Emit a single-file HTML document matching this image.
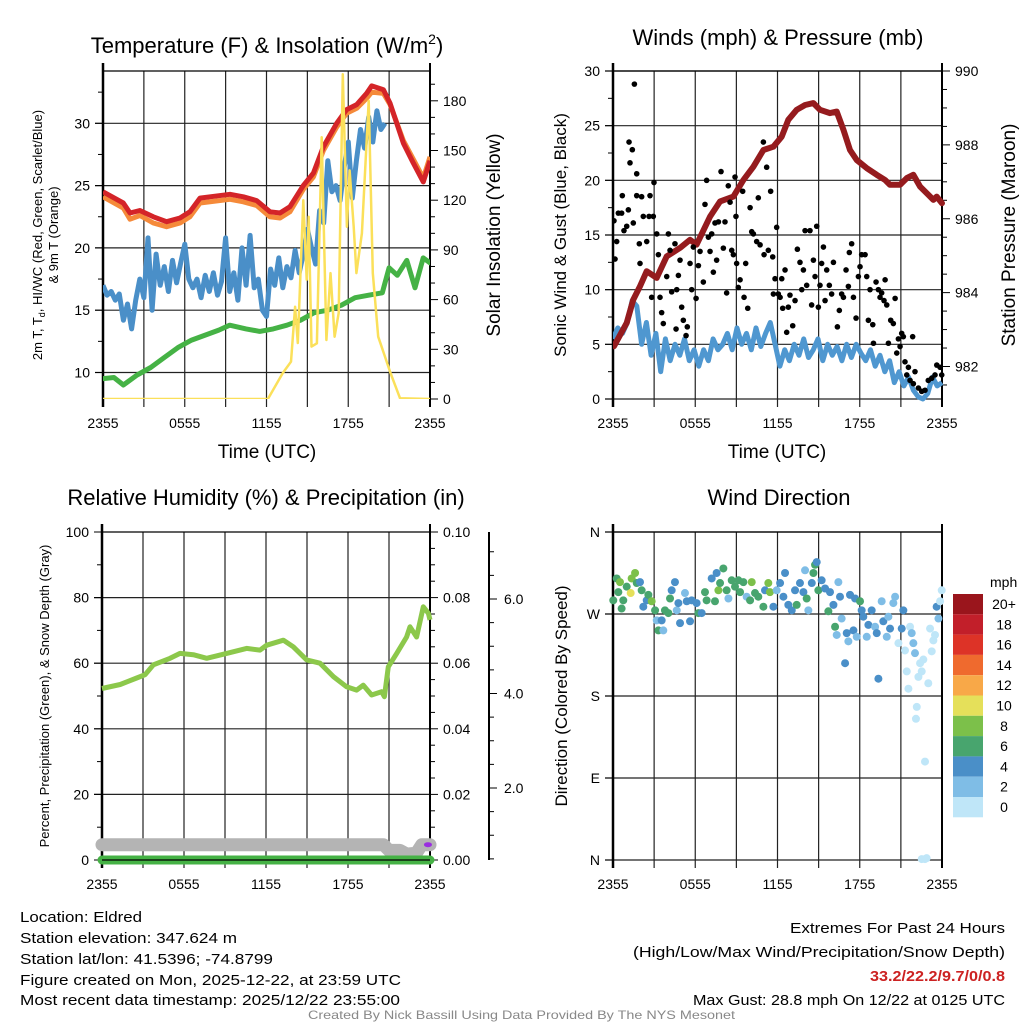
<!DOCTYPE html>
<html><head><meta charset="utf-8"><style>
html,body{margin:0;padding:0;background:#fff;}
svg{display:block;font-family:"Liberation Sans",Arial,sans-serif;}
</style></head><body>
<svg id="chart" width="1024" height="1024" viewBox="0 0 1024 1024" xmlns="http://www.w3.org/2000/svg">
<rect width="1024" height="1024" fill="#fff"/>
<g id="root"></g>
<text x="267" y="53" font-size="22" text-anchor="middle">Temperature (F) &amp; Insolation (W/m<tspan dy="-9" font-size="14">2</tspan><tspan dy="9">)</tspan></text>
<text x="778" y="45" font-size="22" text-anchor="middle">Winds (mph) &amp; Pressure (mb)</text>
<text x="266" y="505" font-size="22" text-anchor="middle">Relative Humidity (%) &amp; Precipitation (in)</text>
<text x="779" y="505" font-size="22" text-anchor="middle">Wind Direction</text>
<text x="267" y="458" font-size="19" text-anchor="middle">Time (UTC)</text>
<text x="777" y="458" font-size="19" text-anchor="middle">Time (UTC)</text>
<text transform="translate(42,235) rotate(-90)" font-size="13" text-anchor="middle">2m T, T<tspan dy="3" font-size="9">d</tspan><tspan dy="-3">, HI/WC (Red, Green, Scarlet/Blue)</tspan></text>
<text transform="translate(58,235) rotate(-90)" font-size="13" text-anchor="middle">&amp; 9m T (Orange)</text>
<text transform="translate(500,235) rotate(-90)" font-size="19" text-anchor="middle">Solar Insolation (Yellow)</text>
<text transform="translate(566,235) rotate(-90)" font-size="17" text-anchor="middle">Sonic Wind &amp; Gust (Blue, Black)</text>
<text transform="translate(1015,235) rotate(-90)" font-size="19" text-anchor="middle">Station Pressure (Maroon)</text>
<text transform="translate(49,696) rotate(-90)" font-size="13" text-anchor="middle">Percent, Precipitation (Green), &amp; Snow Depth (Gray)</text>
<text transform="translate(567,696) rotate(-90)" font-size="17" text-anchor="middle">Direction (Colored By Speed)</text>
<g font-size="15">
<text x="20" y="922" textLength="122" lengthAdjust="spacingAndGlyphs">Location: Eldred</text>
<text x="20" y="943" textLength="217" lengthAdjust="spacingAndGlyphs">Station elevation: 347.624 m</text>
<text x="20" y="964" textLength="253" lengthAdjust="spacingAndGlyphs">Station lat/lon: 41.5396; -74.8799</text>
<text x="20" y="985" textLength="381" lengthAdjust="spacingAndGlyphs">Figure created on Mon, 2025-12-22, at 23:59 UTC</text>
<text x="20" y="1005" textLength="380" lengthAdjust="spacingAndGlyphs">Most recent data timestamp: 2025/12/22 23:55:00</text>
</g>
<g font-size="15" text-anchor="end">
<text x="1005" y="933" textLength="215" lengthAdjust="spacingAndGlyphs">Extremes For Past 24 Hours</text>
<text x="1005" y="957" textLength="372" lengthAdjust="spacingAndGlyphs">(High/Low/Max Wind/Precipitation/Snow Depth)</text>
<text x="1005" y="981" textLength="135" lengthAdjust="spacingAndGlyphs" fill="#cc2222" font-weight="bold">33.2/22.2/9.7/0/0.8</text>
<text x="1005" y="1005" textLength="312" lengthAdjust="spacingAndGlyphs">Max Gust: 28.8 mph On 12/22 at 0125 UTC</text>
</g>
<text x="308" y="1019" font-size="12" fill="#888" textLength="427" lengthAdjust="spacingAndGlyphs">Created By Nick Bassill Using Data Provided By The NYS Mesonet</text>
</svg>
<script>
// ---------- DATA ----------
const xTickLabels = ["2355","0555","1155","1755","2355"];
const tempTimes = [0,1.49,1.98,2.71,3.69,4.67,5.65,6.38,7.12,7.85,9.32,10.3,11.28,12.26,12.99,13.72,14.7,15.44,16.17,17.15,17.88,18.62,19.35,19.72,20.58,21.07,22.05,22.78,23.51,24];
const tempValues = [24.5,23.6,22.8,23.0,22.5,22.1,22.4,22.9,24.0,24.1,24.3,24.1,23.8,22.9,22.8,23.3,25.0,26.0,28.1,30.0,31.1,31.5,32.4,33.0,32.7,31.6,28.4,26.8,25.3,27.0];
const temp9mValues = [24.1,23.2,22.3,22.6,22.0,21.7,22.0,22.5,23.6,23.7,23.9,23.7,23.4,22.5,22.4,22.9,24.7,25.7,27.8,29.7,30.8,31.2,32.0,32.5,32.4,31.5,28.6,27.1,25.6,27.3];
const chillValues = [17,16.2,16.5,15.8,16.3,14.2,15.5,13.5,15.8,17.5,16.0,20.8,15.0,19.5,17.0,18.5,16.5,19.0,17.2,18.8,20.3,17.5,16.8,17.5,16.0,17.8,16.5,18.0,16.2,17.3,20.8,16.5,18.0,15.8,20.0,17.0,21.0,16.8,17.5,15.0,14.5,18.3,17.0,19.2,16.8,18.5,17.6,19.8,18.0,19.5,21.5,20.0,18.7,23.0,22.0,27.0,24.5,25.0,23.8,26.5,28.5,24.0,27.0,29.5,28.0,30.5,28.5,31.0,29.5,30.0];
const chillStep = 0.3;
const dewTimes = [0,0.8,1.5,2.5,3.5,4.5,5.5,6.5,7.5,8.5,9.3,10.5,11.5,12.5,13.5,14.5,15.5,16.5,17.5,18.5,19.5,20.5,21.0,21.6,22.3,22.9,23.5,24];
const dewValues = [9.5,9.6,9.0,9.8,10.4,11.2,12.0,12.6,13.0,13.4,13.8,13.5,13.3,13.5,13.8,14.2,14.8,15.0,15.4,16.0,16.2,16.4,18.4,17.8,19.0,16.8,19.2,18.8];
const solarTimes = [0,12.1,13.2,13.8,14.1,14.3,14.7,14.95,15.1,15.3,15.7,16.05,16.4,16.7,17.0,17.3,17.6,17.9,18.1,18.4,18.6,19.0,19.5,19.8,20.2,20.6,21.1,21.8,24];
const solarValues = [0,0,15.7,22.5,55.7,33.8,120,72,110,31.6,33.6,158,35.6,76,37.6,52,196,104,138,104,76,100,180,76,37.6,27.8,15.7,0.5,0];

const windValues = [5.5,6.5,6.0,7.0,9.0,8.5,5.0,7.0,4.0,6.0,2.5,5.5,3.5,5.0,4.0,5.5,3.5,4.5,3.0,4.5,3.5,5.5,4.5,5.0,6.0,4.5,6.5,5.0,6.0,4.5,6.5,4.8,6.0,7.0,5.0,3.0,4.5,3.5,5.0,4.0,5.5,3.8,4.5,5.5,3.5,5.0,4.0,4.8,3.5,5.0,3.8,5.0,4.2,3.5,4.5,3.0,4.0,2.5,3.5,1.5,2.5,1.2,2.0,0.8,0.2,0.0,0.5,2.0,1.2,1.5];
const windStep = 24/69;
const gustTimes = [0.07,0.15,0.27,0.39,0.63,0.68,0.8,1.0,1.12,1.17,1.24,1.41,1.56,1.48,1.73,1.73,1.92,1.97,2.09,2.21,2.46,2.63,2.7,2.82,2.94,2.99,3.19,3.31,3.43,3.55,3.67,3.92,4.04,4.16,4.28,4.52,4.65,4.6,4.77,4.89,5.01,5.13,5.33,5.42,5.62,5.74,5.86,6.06,6.23,6.35,6.59,6.71,6.83,6.96,7.08,7.2,7.32,7.44,7.56,7.69,7.88,8.05,8.17,8.29,8.41,8.54,8.66,8.78,8.9,8.97,9.02,9.14,9.27,9.46,9.56,9.68,9.83,10.0,10.12,10.24,10.48,10.6,10.73,10.97,11.02,11.21,11.33,11.5,11.65,11.7,11.82,11.94,12.06,12.19,12.31,12.38,12.55,12.67,12.79,12.91,13.11,13.28,13.45,13.64,13.77,13.89,14.01,14.13,14.37,14.49,14.62,14.74,14.86,14.98,15.1,15.22,15.35,15.47,15.59,15.78,15.95,16.08,16.37,16.51,16.68,16.81,17.0,17.17,17.24,17.41,17.54,17.73,17.9,18.02,18.14,18.39,18.51,18.63,18.75,18.95,19.0,19.19,19.36,19.48,19.6,19.77,19.85,19.97,20.09,20.26,20.45,20.58,20.7,20.82,20.94,21.06,21.18,21.3,21.43,21.55,21.67,21.86,21.91,22.03,22.28,22.52,22.76,23.0,23.25,23.49,23.62,23.86,23.98];
const gustValues = [16.3,12.8,14.4,17.0,17.0,18.6,15.4,15.8,17.3,23.5,21.6,22.8,28.8,16.1,20.6,18.6,14.2,12.4,18.5,16.7,14.4,16.7,18.6,9.3,16.7,19.8,15.1,13.2,9.3,7.9,6.9,11.2,15.1,13.6,9.8,14.2,10.0,6.4,11.3,12.7,8.4,7.2,5.8,6.6,12.4,10.0,13.9,9.2,12.2,13.5,10.7,17.8,20.0,14.8,13.5,15.1,11.6,16.1,12.7,16.2,20.8,13.8,16.2,9.7,19.5,18.0,13.6,13.2,20.3,16.7,12.4,10.2,10.9,19.0,9.3,12.4,8.3,17.5,15.3,15.1,14.4,18.4,14.1,23.5,13.2,21.2,13.6,19.0,13.0,9.6,11.0,15.7,9.6,9.3,11.0,8.3,11.8,6.1,8.4,9.5,6.7,9.0,13.7,12.5,10.0,11.8,15.4,10.4,15.4,8.6,12.7,11.2,15.8,8.4,10.4,12.4,13.9,9.0,11.8,10.4,9.6,12.5,6.6,8.1,9.6,9.3,11.8,10.3,13.4,14.2,9.3,7.4,11.2,12.1,13.2,13.2,11.2,7.2,10.0,6.8,5.1,10.7,10.0,9.3,9.7,9.0,10.9,8.6,5.1,7.2,6.9,9.2,4.2,5.5,4.8,6.0,5.7,3.4,2.2,2.9,1.7,5.7,1.4,2.5,1.0,0.7,0.8,1.7,1.9,2.2,3.1,2.9,2.2];
const presTimes = [0.07,1.0,1.48,1.97,2.46,3.19,3.92,4.89,5.62,6.1,7.08,7.81,8.78,9.51,10.24,10.97,11.7,12.31,12.79,13.4,14.01,14.62,15.1,15.83,16.32,16.81,17.29,17.78,18.51,19.24,19.85,20.21,20.94,21.43,21.91,22.4,23.0,23.37,23.61,24];
const presValues = [982.55,983.18,983.81,984.17,984.58,984.4,984.98,985.21,985.43,985.3,986.06,986.47,986.6,987.05,987.41,987.86,987.95,988.22,988.68,988.95,989.08,989.13,988.95,988.86,988.9,988.41,987.86,987.59,987.37,987.19,987.05,986.92,986.92,987.1,987.19,986.87,986.65,986.51,986.6,986.42];

const rhTimes = [0,1.33,2.54,3.15,3.76,4.98,5.71,6.68,7.66,9.12,10.58,11.56,12.05,13.27,14.0,14.98,15.95,16.93,17.9,18.63,19.12,19.73,20.46,20.66,20.95,21.56,22.29,22.54,23.02,23.51,23.88,24];
const rhValues = [52.3,53.5,55.5,56.5,59.5,61.5,63.0,62.6,61.5,63.0,64.5,64.0,65.5,67.0,65.0,61.0,60.0,55.9,52.8,51.8,53.3,50.3,51.3,49.8,58.9,63.0,68.0,71.1,68.0,77.2,75.2,73.2];
const snowTimes = [0,20.6,21.0,21.8,22.3,23.0,23.4,24];
const snowValues = [0.8,0.8,0.68,0.68,0.6,0.62,0.8,0.8];
const precipTimes = [0,24];
const precipValues = [0,0];

const dirTimes = [0.02,0.27,0.39,0.51,0.63,0.75,1.0,1.29,1.36,1.61,1.73,1.97,2.09,2.21,2.46,2.58,2.82,3.07,3.19,3.31,3.55,3.67,3.79,4.04,4.16,4.28,4.52,4.65,4.77,4.89,5.25,5.38,5.62,5.74,6.1,6.23,6.47,6.71,6.83,7.2,7.44,7.56,7.69,7.81,8.05,8.29,8.42,8.66,8.9,9.15,9.27,9.51,9.75,10.0,10.12,10.36,10.6,10.97,11.09,11.33,11.45,11.7,11.94,12.19,12.43,12.55,12.79,13.04,13.28,13.4,13.64,13.89,14.01,14.13,14.25,14.5,14.62,14.74,14.86,14.98,15.22,15.47,15.71,15.83,16.08,16.2,16.32,16.44,16.56,16.68,16.93,17.05,17.17,17.29,17.54,17.66,17.78,18.02,18.14,18.26,18.51,18.63,18.87,19.12,19.24,19.36,19.6,19.72,19.97,20.09,20.21,20.45,20.58,20.82,21.06,21.18,21.3,21.43,21.55,21.67,21.79,21.91,22.03,22.16,22.1,22.28,22.4,22.52,22.64,22.76,22.88,23.0,23.13,23.25,23.37,23.49,23.61,23.74,23.86,23.98,22.52,22.76];
const dirValues = [285,309,294,305,276,285,300,293,309,315,304,305,296,278,285,291,284,274,263,252,263,252,274,271,287,296,305,274,282,260,293,284,262,285,282,271,271,294,285,309,284,315,296,304,320,296,287,307,300,307,294,305,289,285,305,293,289,278,296,304,294,278,296,304,289,315,280,274,296,280,304,294,318,287,274,304,315,324,327,296,307,298,273,294,280,256,247,305,289,265,216,249,240,291,252,287,245,284,274,267,245,258,274,256,249,199,284,262,245,267,254,282,289,238,254,274,230,207,188,256,249,238,227,168,155,201,216,207,220,108,2,194,254,229,241,247,278,265,284,296,1,1];
const dirSpeeds = [6,6,6,8,6,6,6,10,8,8,6,4,6,4,4,6,8,6,2,6,4,2,6,6,6,4,4,2,4,4,2,4,4,4,4,6,4,6,6,4,6,4,8,6,6,6,2,6,6,6,6,6,2,6,8,6,6,6,4,8,8,4,2,4,4,4,4,4,4,6,4,4,2,6,2,4,6,6,4,6,4,4,6,4,4,6,2,2,4,2,4,4,2,4,4,4,2,6,4,4,2,4,4,2,4,4,2,4,2,2,4,2,2,0,4,4,0,0,0,0,2,2,2,0,0,0,0,0,0,0,0,0,0,0,0,0,4,2,0,0,0,0];
const speedBins = [0,2,4,6,8,10,12,14,16,18,20];
const speedLabels = ["0","2","4","6","8","10","12","14","16","18","20+"];
const speedColors = ["#bfe6f8","#7fbde6","#4a8fc8","#48a56e","#7cc04a","#e5e05a","#f8a848","#ef6a2e","#dd3327","#c21f2a","#9a151c"];

// ---------- DRAWING ----------
const NS = "http://www.w3.org/2000/svg";
const root = document.getElementById("root");
function mk(tag, attrs, parent){
  const e = document.createElementNS(NS, tag);
  for (const k in attrs) e.setAttribute(k, attrs[k]);
  (parent || root).appendChild(e);
  return e;
}
function linScale(d0,d1,r0,r1){ return v => r0 + (v-d0)/(d1-d0)*(r1-r0); }
function pathFrom(ts, vs, xs, ys){
  let d = "";
  for (let i=0;i<ts.length;i++){ d += (i?"L":"M") + xs(ts[i]).toFixed(1) + "," + ys(vs[i]).toFixed(1); }
  return d;
}
function stepTimes(n, step){ const a=[]; for(let i=0;i<n;i++) a.push(i*step); return a; }

function frame(L,R,T,B,g,leftTicks,hLines){
  // grid verticals
  for (let h=0; h<=24; h+=3){
    const x = L + h/24*(R-L);
    const ln = mk("line",{x1:x,y1:T,x2:x,y2:B+8,stroke:"#222","stroke-width":1.2},g);
    
    
  }
  hLines.forEach(y=>{
    const ln = mk("line",{x1:L-8,y1:y,x2:R,y2:y,stroke:"#222","stroke-width":1.2},g);
    
    
  });
  mk("line",{x1:L,y1:T,x2:R,y2:T,stroke:"#000","stroke-width":1.2},g);
  mk("line",{x1:L,y1:T-8,x2:L,y2:B+8,stroke:"#000","stroke-width":2.5},g);
  mk("line",{x1:R,y1:T-8,x2:R,y2:B+8,stroke:"#000","stroke-width":2},g);
  xTickLabels.forEach((lab,i)=>{
    const x = L + i*6/24*(R-L);
    const t = mk("text",{x:x,y:B+29,"font-size":14,"text-anchor":"middle"},g);
    t.textContent = lab;
    
    
  });
  leftTicks.forEach(tk=>{
    mk("line",{x1:L-(tk.major?8:5),y1:tk.y,x2:L,y2:tk.y,stroke:"#000","stroke-width":1},g);
    if (tk.label!==undefined){
      const t = mk("text",{x:L-13,y:tk.y+5,"font-size":14,"text-anchor":"end"},g);
      t.textContent = tk.label;
      
      
    }
  });
}
function rightTicks(R,ticks,g,lx){
  ticks.forEach(tk=>{
    mk("line",{x1:R,y1:tk.y,x2:R+(tk.major?8:5),y2:tk.y,stroke:"#000","stroke-width":1},g);
    if (tk.label!==undefined){
      const t = mk("text",{x:lx||R+13,y:tk.y+5,"font-size":14},g);
      t.textContent = tk.label;
      
      
    }
  });
}

// ===== Panel 1: Temperature =====
(function(){
  const L=103,R=430,T=71,B=399;
  const g = mk("g",{});  
  const xs = linScale(0,24,L,R);
  const ys = linScale(10,30,372.5,123.3);
  const ysol = linScale(0,180,399,100.8);
  const lt=[], hl=[];
  for (let v=7.5; v<=34; v+=2.5){ const y=ys(v); if(y<T||y>B) continue; const maj = v%5===0; lt.push({y:y,major:maj,label:maj?String(v):undefined}); if(maj) hl.push(y); }
  frame(L,R,T,B,g,lt,hl);
  const rt=[];
  for (let v=0; v<=190; v+=10){ const maj=v%30===0; rt.push({y:ysol(v),major:maj,label:maj?String(v):undefined}); }
  rightTicks(R,rt,g);
  const clip = mk("clipPath",{id:"c1"},g); mk("rect",{x:L,y:T,width:R-L,height:B-T},clip);
  const pg = mk("g",{"clip-path":"url(#c1)"},g);
  let p;
  p = mk("path",{d:pathFrom(dewTimes,dewValues,xs,ys),fill:"none",stroke:"#45b245","stroke-width":5,"stroke-linejoin":"round","stroke-linecap":"round"},pg);
   
  p = mk("path",{d:pathFrom(stepTimes(chillValues.length,chillStep),chillValues,xs,ys),fill:"none",stroke:"#4a8fc8","stroke-width":5,"stroke-linejoin":"round"},pg);
   
  p = mk("path",{d:pathFrom(tempTimes,temp9mValues,xs,ys),fill:"none",stroke:"#f58a3a","stroke-width":5,"stroke-linejoin":"round"},pg);
   
  p = mk("path",{d:pathFrom(tempTimes,tempValues,xs,ys),fill:"none",stroke:"#d42428","stroke-width":5,"stroke-linejoin":"round"},pg);
   
  p = mk("path",{d:pathFrom(solarTimes,solarValues,xs,ysol),fill:"none",stroke:"#fbe05a","stroke-width":2.5,"stroke-linejoin":"round"},pg);
   
})();

// ===== Panel 2: Winds =====
(function(){
  const L=613,R=942,T=71,B=399;
  const g = mk("g",{});  
  const xs = linScale(0,24,L,R);
  const ys = linScale(0,30,B,T);
  const yp = linScale(982,990,366.5,71);
  const lt=[], hl=[];
  for (let v=0; v<=30; v+=2.5){ const maj=v%5===0; lt.push({y:ys(v),major:maj,label:maj?String(v):undefined}); if(maj) hl.push(ys(v)); }
  frame(L,R,T,B,g,lt,hl);
  const rt=[];
  for (let v=981.5; v<=990; v+=0.5){ const y=yp(v); if(y>B) continue; const maj=v%2===0; rt.push({y:y,major:maj,label:maj?String(v):undefined}); }
  rightTicks(R,rt,g);
  const clip = mk("clipPath",{id:"c2"},g); mk("rect",{x:L,y:T-5,width:R-L+4,height:B-T+8},clip);
  const pg = mk("g",{"clip-path":"url(#c2)"},g);
  let p = mk("path",{d:pathFrom(stepTimes(windValues.length,windStep),windValues,xs,ys),fill:"none",stroke:"#4f97d0","stroke-width":5,"stroke-linejoin":"round"},pg);
   
  p = mk("path",{d:pathFrom(presTimes,presValues,xs,yp),fill:"none",stroke:"#951b1e","stroke-width":6,"stroke-linejoin":"round","stroke-linecap":"round"},pg);
   
  for (let i=0;i<gustTimes.length;i++){
    const c = mk("circle",{cx:xs(gustTimes[i]),cy:ys(gustValues[i]),r:2.8,fill:"#000"},pg);
    
    
  }
})();

// ===== Panel 3: RH =====
(function(){
  const L=102,R=430,T=532,B=860;
  const g = mk("g",{});  
  const xs = linScale(0,24,L,R);
  const ys = linScale(0,100,B,T);
  const ypr = linScale(0,0.1,B,T);
  const ysn = linScale(0,2,882.5,788);
  const lt=[], hl=[];
  for (let v=0; v<=100; v+=10){ const maj=v%20===0; lt.push({y:ys(v),major:maj,label:maj?String(v):undefined}); if(maj&&v>0&&v<100) hl.push(ys(v)); }
  frame(L,R,T,B,g,lt,hl);
  const rt=[];
  for (let i=0;i<=20;i++){ const v=i*0.005; const maj=i%4===0; rt.push({y:ypr(v),major:maj,label:maj?v.toFixed(2):undefined}); }
  rightTicks(R,rt,g);
  mk("line",{x1:489,y1:T,x2:489,y2:B,stroke:"#000","stroke-width":2},g);
  const st=[];
  for (let i=1;i<=14;i++){ const v=i*0.5; const y=ysn(v); if(y<T) continue; const maj=i%4===0; st.push({y:y,major:maj,label:maj?v.toFixed(1):undefined}); }
  rightTicks(489,st,g,504);
  const clip = mk("clipPath",{id:"c3"},g); mk("rect",{x:L-10,y:T,width:R-L+20,height:B-T+10},clip);
  const pg = mk("g",{"clip-path":"url(#c3)"},g);
  let p = mk("path",{d:pathFrom(snowTimes,snowValues,xs,ysn),fill:"none",stroke:"#b4b4b4","stroke-width":13,"stroke-linejoin":"round","stroke-linecap":"round"},pg);
   
  p = mk("path",{d:pathFrom(precipTimes,precipValues,xs,ypr),fill:"none",stroke:"#45b245","stroke-width":9,"stroke-linecap":"round"},pg);
   
  mk("line",{x1:L,y1:B,x2:R,y2:B,stroke:"#000","stroke-width":1.2},g);
  p = mk("ellipse",{cx:xs(23.85),cy:ysn(0.8),rx:4,ry:2.5,fill:"#9a2ee0"},pg);
   
  p = mk("path",{d:pathFrom(rhTimes,rhValues,xs,ys),fill:"none",stroke:"#8cc84b","stroke-width":5,"stroke-linejoin":"round"},pg);
   
})();

// ===== Panel 4: Wind direction =====
(function(){
  const L=613,R=942,T=532,B=860;
  const g = mk("g",{});  
  const xs = linScale(0,24,L,R);
  const ys = linScale(0,360,B,T);
  const dirLabels = ["N","E","S","W","N"];
  const lt=[], hl=[];
  for (let i=0;i<5;i++){ lt.push({y:ys(i*90),major:true,label:dirLabels[i]}); hl.push(ys(i*90)); }
  frame(L,R,T,B,g,lt,hl);
  for (let i=0;i<dirTimes.length;i++){
    let ci = speedBins.length-1;
    for (let k=0;k<speedBins.length;k++){ if (dirSpeeds[i] < speedBins[k]+2){ ci=k; break; } }
    const c = mk("circle",{cx:xs(dirTimes[i]),cy:ys(dirValues[i]),r:4,fill:speedColors[ci]},g);
    
    
  }
  // colorbar
  const cb = mk("g",{});  
  const t0 = mk("text",{x:990,y:587,"font-size":14},cb); t0.textContent="mph";
   
  for (let k=0;k<speedColors.length;k++){
    const idx = speedColors.length-1-k;
    const y = 594 + k*20.3;
    const r = mk("rect",{x:953,y:y,width:30,height:20.3,fill:speedColors[idx]},cb);
     
    const t = mk("text",{x:1004,y:y+15,"font-size":14,"text-anchor":"middle"},cb);
    t.textContent = speedLabels[idx];
     
  }
})();
</script>
</body></html>
